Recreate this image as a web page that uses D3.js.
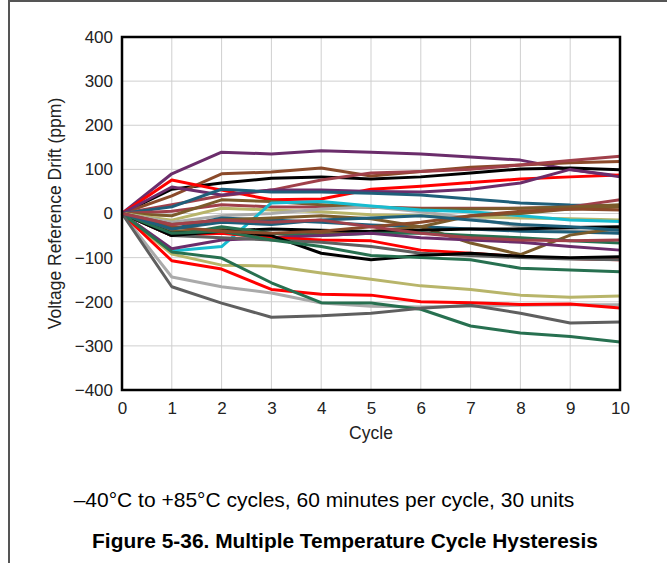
<!DOCTYPE html>
<html><head><meta charset="utf-8">
<script src="https://cdn.jsdelivr.net/npm/d3@7"></script>
<style>body{margin:0;background:#fff}svg{display:block}text{font-family:"Liberation Sans",Arial,sans-serif}</style>
</head><body>
<script>
const cycles = [0,1,2,3,4,5,6,7,8,9,10];
const yTicks = [-400,-300,-200,-100,0,100,200,300,400];
const seriesColors = [
 "#6B2D6B","#000000","#8B4A2A","#A0404A","#FF0000","#6B2D6B","#1F5F7A","#A0404A","#7B5B2B","#B8B56A",
 "#AAAAAA","#17BCD0","#1F5F7A","#7B5B2B","#7B5B2B","#000000","#277050","#6B2D6B","#FF0000","#5F5F5F",
 "#000000","#277050","#B8B56A","#AAAAAA","#FF0000","#277050","#5F5F5F","#8B4A2A","#1F5F7A","#A0404A"];
const s01 = [0, 90, 139, 135, 142, 139, 135, 128, 121, 99, 85];
const s02 = [0, 55, 69, 80, 83, 78, 83, 92, 101, 103, 99];
const s03 = [0, 40, 90, 94, 103, 85, 95, 105, 110, 115, 118];
const s04 = [0, 20, 40, 53, 76, 92, 95, 100, 110, 120, 130];
const s05 = [0, 76, 53, 31, 33, 55, 62, 70, 78, 83, 87];
const s06 = [0, 60, 42, 53, 53, 50, 49, 55, 69, 100, 83];
const s07 = [0, 15, 55, 49, 49, 46, 42, 33, 24, 19, 17];
const s08 = [0, 5, 20, 15, 15, 15, 12, 12, 12, 15, 31];
const s09 = [0, -5, 31, 27, 20, 15, 10, 10, 12, 15, 20];
const s10 = [0, -15, 12, 8, 4, -3, -5, -8, -10, -12, -15];
const s11 = [0, -20, -5, 0, 10, 15, 4, -10, -30, -38, -44];
const s12 = [0, -85, -75, 24, 27, 17, 8, 4, -5, -15, -18];
const s13 = [0, -35, -10, -15, -20, -26, -30, -35, -40, -42, -45];
const s14 = [0, -25, -15, -10, -5, -12, -30, -67, -93, -49, -33];
const s15 = [0, -40, -35, -55, -45, -40, -30, -5, 0, 10, 15];
const s16 = [0, -45, -40, -35, -38, -41, -38, -35, -35, -32, -30];
const s17 = [0, -50, -30, -45, -50, -45, -44, -50, -55, -62, -67];
const s18 = [0, -80, -60, -55, -50, -45, -55, -60, -65, -75, -83];
const s19 = [0, -50, -45, -55, -60, -62, -83, -90, -98, -102, -105];
const s20 = [0, -50, -55, -60, -65, -75, -90, -95, -100, -103, -105];
const s21 = [0, -50, -40, -50, -90, -105, -95, -90, -97, -100, -98];
const s22 = [0, -45, -40, -60, -75, -95, -100, -105, -124, -128, -132];
const s23 = [0, -92, -117, -119, -135, -149, -164, -172, -185, -190, -187];
const s24 = [0, -144, -166, -180, -203, -210, -212, -210, -208, -207, -207];
const s25 = [0, -107, -126, -172, -183, -185, -200, -202, -206, -205, -214];
const s26 = [0, -87, -101, -157, -202, -203, -217, -255, -271, -279, -291];
const s27 = [0, -166, -203, -235, -232, -226, -215, -208, -226, -248, -246];
const s28 = [0, -30, -40, -45, -40, -30, -20, -5, 5, 10, 8];
const s29 = [0, -35, -20, -25, -15, -10, -5, -15, -25, -30, -38];
const s30 = [0, -25, -15, -20, -15, -30, -45, -55, -60, -62, -60];
const seriesValues = [s01,s02,s03,s04,s05,s06,s07,s08,s09,s10,s11,s12,s13,s14,s15,s16,s17,s18,s19,s20,s21,s22,s23,s24,s25,s26,s27,s28,s29,s30];
const xTitle = "Cycle";
const yTitle = "Voltage Reference Drift (ppm)";
const caption = "\u201340\u00B0C to +85\u00B0C cycles, 60 minutes per cycle, 30 units";
const figTitle = "Figure 5-36. Multiple Temperature Cycle Hysteresis";

const W = 667, H = 563;
const L = 122, R = 620, T = 37, B = 390;
const svg = d3.select("body").append("svg").attr("width", W).attr("height", H);
svg.append("path").attr("d", `M9,${H} L9,1 L${W},1`).attr("fill","none").attr("stroke","#555").attr("stroke-width",2);

const x = d3.scaleLinear().domain([0,10]).range([L,R]);
const y = d3.scaleLinear().domain([-400,400]).range([B,T]);

svg.append("g").selectAll("line").data(cycles.slice(1,-1)).join("line")
  .attr("x1",d=>x(d)).attr("x2",d=>x(d)).attr("y1",T).attr("y2",B)
  .attr("stroke","#CFCFCF").attr("stroke-width",1);
svg.append("g").selectAll("line").data(yTicks.slice(1,-1)).join("line")
  .attr("x1",L).attr("x2",R).attr("y1",d=>y(d)).attr("y2",d=>y(d))
  .attr("stroke","#CFCFCF").attr("stroke-width",1);

const line = d3.line().x((d,i)=>x(cycles[i])).y(d=>y(d));
const lg = svg.append("g");
seriesValues.forEach((vals,i)=>{
  lg.append("path").attr("d", line(vals)).attr("fill","none")
    .attr("stroke", seriesColors[i]).attr("stroke-width", 3)
    .attr("stroke-linejoin","round");
});

svg.append("rect").attr("x",L).attr("y",T).attr("width",R-L).attr("height",B-T)
  .attr("fill","none").attr("stroke","#000").attr("stroke-width",2.5);

const yAxis = d3.axisLeft(y).tickValues(yTicks).tickSize(0).tickPadding(9);
const gy = svg.append("g").attr("transform",`translate(${L},0)`).call(yAxis);
gy.select(".domain").remove();
gy.selectAll("text").attr("font-size",17).attr("fill","#222").style("font-family","'Liberation Sans',Arial,sans-serif");
const xAxis = d3.axisBottom(x).tickValues(cycles).tickFormat(d3.format("d")).tickSize(0).tickPadding(12);
const gx = svg.append("g").attr("transform",`translate(0,${B})`).call(xAxis);
gx.select(".domain").remove();
gx.selectAll("text").attr("font-size",17).attr("fill","#222").style("font-family","'Liberation Sans',Arial,sans-serif");

svg.append("text").attr("x",(L+R)/2).attr("y",439).attr("text-anchor","middle")
  .attr("font-size",17.5).attr("fill","#222").text(xTitle);
svg.append("text").attr("transform",`translate(61,${(T+B)/2}) rotate(-90)`).attr("text-anchor","middle")
  .attr("font-size",17.5).attr("fill","#222").text(yTitle);
svg.append("text").attr("x",324).attr("y",507).attr("text-anchor","middle")
  .attr("font-size",21).attr("fill","#000").text(caption);
svg.append("text").attr("x",345).attr("y",548).attr("text-anchor","middle")
  .attr("font-size",20.9).attr("font-weight","bold").attr("fill","#000").text(figTitle);
</script>
</body></html>
